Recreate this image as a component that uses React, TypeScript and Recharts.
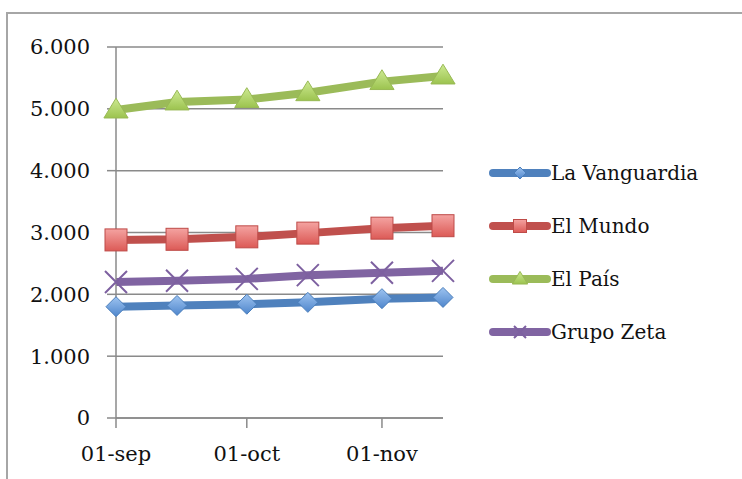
import React from "react";
import { LineChart, Line, XAxis, YAxis, CartesianGrid, Legend } from "recharts";

const dates = ["2010-09-01", "2010-09-15", "2010-10-01", "2010-10-15", "2010-11-01", "2010-11-15"];
const laVanguardia = [1800, 1820, 1840, 1870, 1930, 1950];
const elMundo = [2880, 2890, 2930, 2990, 3070, 3110];
const elPais = [4980, 5110, 5150, 5260, 5440, 5530];
const grupoZeta = [2200, 2220, 2250, 2310, 2350, 2380];
const yTicks = [0, 1000, 2000, 3000, 4000, 5000, 6000];
const xTickDates = ["2010-09-01", "2010-10-01", "2010-11-01"];
const months = ["ene", "feb", "mar", "abr", "may", "jun", "jul", "ago", "sep", "oct", "nov", "dic"];

const toTs = (d: string) => Date.parse(d + "T00:00:00Z");

const series = [
  { key: "vanguardia", name: "La Vanguardia", values: laVanguardia, color: "#4F81BD", marker: "diamond" },
  { key: "mundo", name: "El Mundo", values: elMundo, color: "#C0504D", marker: "square" },
  { key: "pais", name: "El País", values: elPais, color: "#9BBB59", marker: "triangle" },
  { key: "zeta", name: "Grupo Zeta", values: grupoZeta, color: "#8064A2", marker: "x" },
];

const data = dates.map((d, i) => {
  const row: any = { t: toTs(d) };
  series.forEach((s) => (row[s.key] = s.values[i]));
  return row;
});

const fmtDate = (t: number) => {
  const d = new Date(t);
  return String(d.getUTCDate()).padStart(2, "0") + "-" + months[d.getUTCMonth()];
};
const fmtNum = (v: number) => String(v).replace(/\B(?=(\d{3})+(?!\d))/g, ".");

const FONT = "'DejaVu Serif', serif";

function Marker({ type, cx, cy, s }: { type: string; cx: number; cy: number; s: number }) {
  if (type === "diamond") {
    return (
      <path
        d={`M${cx},${cy - s} L${cx + s},${cy} L${cx},${cy + s} L${cx - s},${cy} Z`}
        fill="url(#gBlue)"
        stroke="#4A7EBB"
        strokeWidth={1}
      />
    );
  }
  if (type === "square") {
    return (
      <rect x={cx - s} y={cy - s} width={2 * s} height={2 * s} fill="url(#gRed)" stroke="#BE4B48" strokeWidth={1} />
    );
  }
  if (type === "triangle") {
    const h = s * 1.8;
    return (
      <path
        d={`M${cx},${cy - h * 0.6} L${cx + s * 1.1},${cy + h * 0.4} L${cx - s * 1.1},${cy + h * 0.4} Z`}
        fill="url(#gGreen)"
        stroke="#98B954"
        strokeWidth={1}
      />
    );
  }
  return (
    <path
      d={`M${cx - s},${cy - s} L${cx + s},${cy + s} M${cx - s},${cy + s} L${cx + s},${cy - s}`}
      stroke="#7D60A0"
      strokeWidth={2}
      fill="none"
    />
  );
}

const markerSize: Record<string, number> = { diamond: 10, square: 11, triangle: 11, x: 11 };
const legendSize: Record<string, number> = { diamond: 6, square: 6.5, triangle: 7, x: 6 };

const renderLegend = () => (
  <div style={{ fontFamily: FONT, fontSize: 20, color: "#111" }}>
    {series.map((s) => (
      <div key={s.key} style={{ height: 53, display: "flex", alignItems: "center" }}>
        <svg width={62} height={24} style={{ display: "block" }}>
          <line x1={4} y1={12} x2={58} y2={12} stroke={s.color} strokeWidth={8} strokeLinecap="round" />
          <Marker type={s.marker} cx={31} cy={12} s={legendSize[s.marker]} />
        </svg>
        <span style={{ marginLeft: 0 }}>{s.name}</span>
      </div>
    ))}
  </div>
);

export default function App() {
  return (
    <div style={{ position: "absolute", left: 0, top: 0, width: 742, height: 479, background: "#fff" }}>
      <svg width={0} height={0} style={{ position: "absolute" }}>
        <defs>
          <linearGradient id="gBlue" x1="0" y1="0" x2="0" y2="1">
            <stop offset="0%" stopColor="#9DC3F0" />
            <stop offset="100%" stopColor="#4F86CC" />
          </linearGradient>
          <linearGradient id="gRed" x1="0" y1="0" x2="0" y2="1">
            <stop offset="0%" stopColor="#F4A3A1" />
            <stop offset="100%" stopColor="#DC5A56" />
          </linearGradient>
          <linearGradient id="gGreen" x1="0" y1="0" x2="0" y2="1">
            <stop offset="0%" stopColor="#CDEA92" />
            <stop offset="100%" stopColor="#9CC34F" />
          </linearGradient>
        </defs>
      </svg>
      <div
        style={{
          position: "absolute",
          left: 6,
          top: 12,
          width: 740,
          height: 470,
          borderTop: "2px solid #A6A6A6",
          borderLeft: "2px solid #A6A6A6",
        }}
      />
      <LineChart
        width={742}
        height={479}
        data={data}
        margin={{ top: 47, right: 299, left: 0, bottom: 0 }}
        style={{ position: "absolute", left: 0, top: 0 }}
      >
        <CartesianGrid vertical={false} stroke="#8A8A8A" strokeWidth={1.5} />
        <XAxis
          dataKey="t"
          type="number"
          domain={[toTs(dates[0]), toTs(dates[dates.length - 1])]}
          ticks={xTickDates.map(toTs)}
          tickFormatter={fmtDate}
          height={61}
          tickSize={10}
          tickMargin={18}
          stroke="#8A8A8A"
          strokeWidth={1.5}
          tick={{ fill: "#111", fontFamily: FONT, fontSize: 21 }}
        />
        <YAxis
          domain={[0, 6000]}
          ticks={yTicks}
          tickFormatter={fmtNum}
          width={116}
          tickSize={9}
          tickMargin={17}
          stroke="#8A8A8A"
          strokeWidth={1.5}
          tick={{ fill: "#111", fontFamily: FONT, fontSize: 21 }}
        />
        <Legend
          layout="horizontal"
          verticalAlign="middle"
          align="center"
          wrapperStyle={{ left: 489, top: 146, width: 250 }}
          content={renderLegend}
        />
        {series.map((s) => (
          <Line
            key={s.key}
            dataKey={s.key}
            name={s.name}
            type="linear"
            stroke={s.color}
            strokeWidth={8}
            isAnimationActive={false}
            dot={(p: any) => (
              <Marker key={`${s.key}-${p.index}`} type={s.marker} cx={p.cx} cy={p.cy} s={markerSize[s.marker]} />
            )}
            activeDot={false}
          />
        ))}
      </LineChart>
    </div>
  );
}
